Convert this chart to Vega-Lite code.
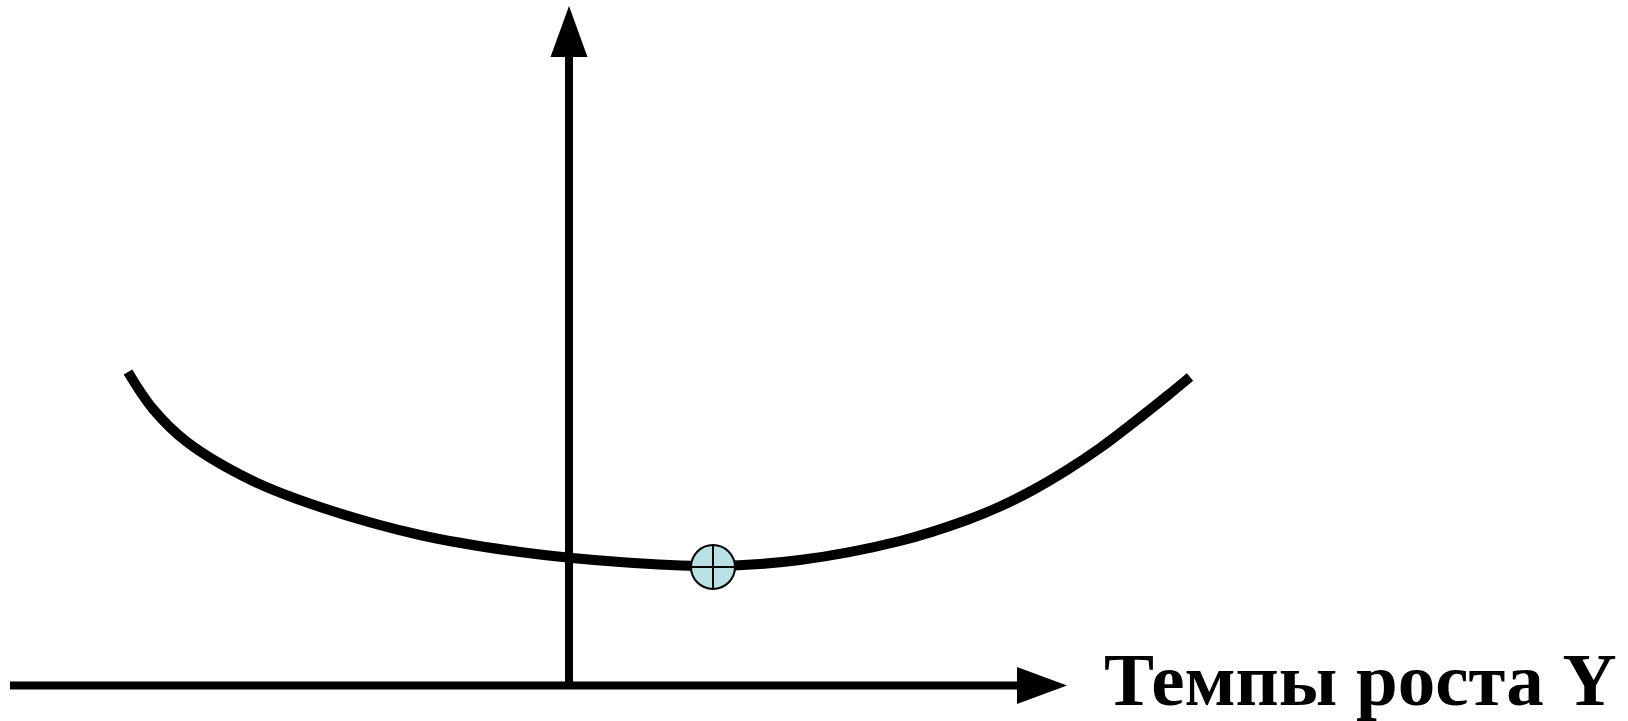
{
  "$schema": "https://vega.github.io/schema/vega-lite/v6.json",
  "width": 1628,
  "height": 721,
  "padding": 0,
  "autosize": {"type": "fit", "contains": "padding"},
  "background": "white",
  "config": {"view": {"stroke": null}},
  "datasets": {
    "curve": [
      {"x": 128, "y": 372}, {"x": 153, "y": 409}, {"x": 187, "y": 442}, {"x": 253, "y": 481},
      {"x": 320, "y": 507}, {"x": 420, "y": 535}, {"x": 520, "y": 552}, {"x": 620, "y": 562},
      {"x": 713, "y": 566}, {"x": 800, "y": 560}, {"x": 900, "y": 541}, {"x": 967, "y": 520},
      {"x": 1000, "y": 506.5}, {"x": 1033, "y": 490}, {"x": 1067, "y": 470}, {"x": 1100, "y": 448},
      {"x": 1133, "y": 423}, {"x": 1167, "y": 396}, {"x": 1190, "y": 377}
    ],
    "axes": [
      {"x": 10, "y": 685.5, "x2": 1018, "y2": 685.5},
      {"x": 569, "y": 685, "x2": 569, "y2": 55}
    ],
    "arrowUp": [{"x": 569, "y": 31.5}],
    "arrowRight": [{"x": 1042, "y": 685.5}],
    "marker": [{"x": 713, "y": 567}],
    "label": [{"x": 1104, "y": 705, "text": "Темпы роста Y"}]
  },
  "encoding": {
    "x": {"field": "x", "type": "quantitative", "scale": {"domain": [0, 1628], "nice": false, "zero": false}, "axis": null},
    "y": {"field": "y", "type": "quantitative", "scale": {"domain": [0, 721], "nice": false, "zero": false, "reverse": true}, "axis": null}
  },
  "layer": [
    {
      "data": {"name": "axes"},
      "mark": {"type": "rule", "color": "black", "strokeWidth": 8, "strokeCap": "butt"},
      "encoding": {
        "x2": {"field": "x2"},
        "y2": {"field": "y2"}
      }
    },
    {
      "data": {"name": "arrowUp"},
      "mark": {"type": "point", "shape": "M-0.7255,1L0,-1L0.7255,1Z", "size": 2601, "filled": true, "color": "black", "opacity": 1, "strokeWidth": 0}
    },
    {
      "data": {"name": "arrowRight"},
      "mark": {"type": "point", "shape": "M-1,-0.74L1,0L-1,0.74Z", "size": 2500, "filled": true, "color": "black", "opacity": 1, "strokeWidth": 0}
    },
    {
      "data": {"name": "curve"},
      "mark": {"type": "line", "color": "black", "strokeWidth": 10, "interpolate": "catmull-rom", "strokeCap": "butt"}
    },
    {
      "data": {"name": "marker"},
      "mark": {"type": "point", "shape": "circle", "size": 1936, "filled": true, "fill": "#b9e0e4", "stroke": "black", "strokeWidth": 2, "opacity": 1, "fillOpacity": 1}
    },
    {
      "data": {"name": "marker"},
      "mark": {"type": "point", "shape": "M-1,0L1,0M0,-1L0,1", "size": 1936, "filled": false, "stroke": "black", "strokeWidth": 2, "opacity": 1}
    },
    {
      "data": {"name": "label"},
      "mark": {"type": "text", "font": "Liberation Serif", "fontWeight": "bold", "fontSize": 75, "align": "left", "baseline": "alphabetic", "color": "black"},
      "encoding": {"text": {"field": "text"}}
    }
  ]
}
